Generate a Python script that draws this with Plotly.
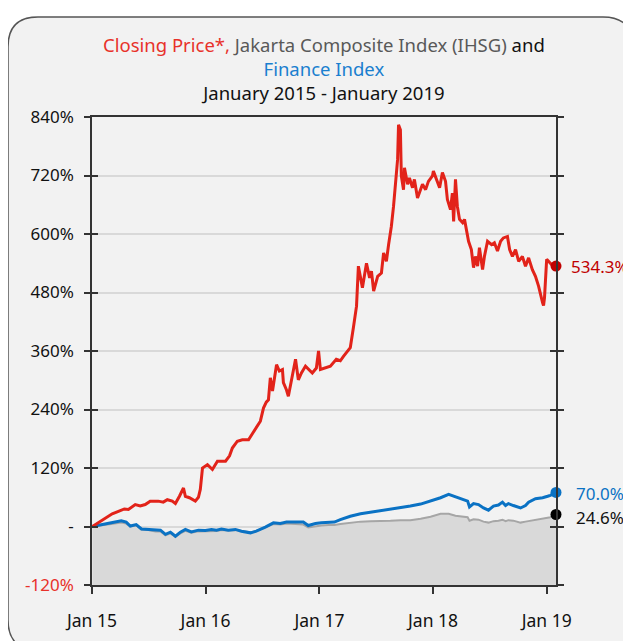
import plotly.graph_objects as go

# ---------------- data ----------------
price_dates = [
    "2015-01-02","2015-01-21","2015-02-13","2015-03-07","2015-03-27","2015-04-15","2015-04-28",
    "2015-05-20","2015-06-05","2015-06-21","2015-07-07","2015-08-02","2015-08-18","2015-08-31",
    "2015-09-16","2015-09-26","2015-10-09","2015-10-22","2015-10-28","2015-11-10","2015-11-29",
    "2015-12-09","2015-12-15","2015-12-22","2016-01-07","2016-01-23","2016-02-08","2016-03-05",
    "2016-03-18","2016-03-27","2016-04-12","2016-04-28","2016-05-18","2016-05-30","2016-06-09",
    "2016-06-25","2016-07-05","2016-07-14","2016-07-21","2016-07-27","2016-08-03","2016-08-09",
    "2016-08-16","2016-08-25","2016-09-04","2016-09-07","2016-09-17","2016-09-23","2016-10-06",
    "2016-10-16","2016-10-25","2016-11-04","2016-11-17","2016-11-30","2016-12-09","2016-12-22",
    "2016-12-29","2017-01-04","2017-01-20","2017-02-05","2017-02-24","2017-03-09","2017-03-19",
    "2017-04-01","2017-04-10","2017-04-20","2017-04-30","2017-05-06","2017-05-19","2017-06-01",
    "2017-06-11","2017-06-17","2017-06-24","2017-07-07","2017-07-19","2017-07-26","2017-08-04",
    "2017-08-11","2017-08-20","2017-08-27","2017-09-02","2017-09-09","2017-09-12","2017-09-18",
    "2017-09-21","2017-09-28","2017-10-01","2017-10-11","2017-10-17","2017-10-27","2017-11-02",
    "2017-11-12","2017-11-28","2017-12-08","2017-12-17","2017-12-30","2018-01-02","2018-01-15",
    "2018-01-22","2018-01-31","2018-02-10","2018-02-16","2018-02-26","2018-03-04","2018-03-08",
    "2018-03-14","2018-03-20","2018-03-27","2018-04-06","2018-04-12","2018-04-18","2018-04-25",
    "2018-05-04","2018-05-11","2018-05-17","2018-05-24","2018-05-30","2018-06-09","2018-06-15",
    "2018-06-25","2018-07-08","2018-07-17","2018-07-27","2018-08-06","2018-08-15","2018-08-28",
    "2018-09-04","2018-09-13","2018-09-23","2018-10-03","2018-10-15","2018-10-25","2018-11-04",
    "2018-11-16","2018-11-26","2018-12-06","2018-12-19","2018-12-22","2018-12-25","2019-01-01",
    "2019-01-07","2019-01-17","2019-01-31",
]
price_return = [
    0, 8, 18, 26, 31, 36, 35,
    45, 42, 45, 52, 52, 50, 55,
    52, 47, 62, 79, 62, 59, 52,
    60, 76, 120, 127, 117, 134, 134,
    145, 161, 175, 178, 178, 190, 199,
    216, 243, 255, 260, 305, 278, 300,
    332, 319, 322, 295, 280, 267, 308,
    343, 301, 315, 329, 320, 315, 325,
    360, 322, 325, 329, 343, 340, 349,
    360, 367, 408, 452, 534, 490, 540,
    510, 524, 483, 513, 520, 561, 544,
    578, 616, 657, 698, 753, 824, 814,
    719, 691, 736, 702, 715, 695, 712,
    674, 702, 691, 708, 719, 729, 708,
    695, 726, 708, 671, 650, 684, 626,
    712, 657, 630, 623, 630, 606, 585,
    568, 531, 554, 534, 572, 527, 554,
    585, 578, 582, 565, 585, 592, 595,
    568, 554, 568, 544, 554, 534, 551,
    527, 513, 493, 459, 453, 469, 548,
    544, 537, 534.3,
]

index_dates = [
    "2015-01-02","2015-01-31","2015-03-04","2015-04-05","2015-04-21","2015-05-04","2015-05-23",
    "2015-06-09","2015-07-01","2015-07-24","2015-08-09","2015-08-25","2015-09-10","2015-09-26",
    "2015-10-12","2015-10-28","2015-11-16","2015-12-09","2015-12-31","2016-01-20","2016-02-05",
    "2016-02-21","2016-03-14","2016-04-06","2016-04-25","2016-05-24","2016-06-12","2016-07-11",
    "2016-08-06","2016-08-28","2016-09-17","2016-10-16","2016-11-10","2016-11-26","2016-12-19",
    "2017-01-07","2017-01-30","2017-02-18","2017-03-09","2017-04-10","2017-05-13","2017-06-14",
    "2017-07-09","2017-08-17","2017-09-18","2017-10-20","2017-11-22","2017-12-24","2018-01-25",
    "2018-02-20","2018-03-14","2018-04-06","2018-04-22","2018-04-28","2018-05-11","2018-05-27",
    "2018-06-12","2018-06-28","2018-07-14","2018-07-30","2018-08-12","2018-08-22","2018-08-31",
    "2018-09-16","2018-10-09","2018-10-25","2018-11-04","2018-11-26","2018-12-19","2019-01-04",
    "2019-01-13","2019-01-31",
]
finance_return = [
    0, 3, 7.5, 11.6, 9, 1, 4,
    -5, -6, -8, -7.5, -16, -11.6, -20,
    -11.6, -6, -11, -7.5, -8, -6, -7.5,
    -5, -7.5, -6, -9.6, -13, -9.6, -1.4,
    7.5, 6, 9, 9, 9, 2, 6,
    7.5, 9, 9, 14, 21, 26, 29,
    31.5, 35, 38, 42, 46, 52, 59,
    66, 61, 57, 52, 40, 47, 45,
    38, 33.5, 42, 44, 50, 43, 47,
    43, 38, 43, 50, 57, 59, 62,
    64, 70.0,
]
ihsg_return = [
    0, 2, 5, 8, 6, 0, 2,
    -6, -7, -10, -10, -18, -14, -21,
    -14, -9, -13, -10, -10, -9, -9,
    -7, -8, -7, -9, -12, -9, -2,
    5, 4, 6, 5, 4, -2, 1,
    2, 3, 3, 5, 8, 10, 11,
    11, 12, 13, 13, 16, 20, 26,
    26, 22, 20, 19, 12, 15, 14,
    10, 8, 11, 12, 14, 11, 13,
    12, 8, 10, 11, 14, 15, 17,
    19, 24.6,
]

y_ticks = [-120, 0, 120, 240, 360, 480, 600, 720, 840]
y_tick_labels = ['<span style="color:#e8312a">-120%</span>', "-", "120%", "240%", "360%",
                 "480%", "600%", "720%", "840%"]
x_range = ["2015-01-01", "2019-01-31"]
y_range = [-120, 840]

# ---------------- style ----------------
RED = "#e2231a"
DARK_RED = "#c00000"
BLUE = "#0a72c4"
GREY_LINE = "#a6a6a6"
GREY_FILL = "#d9d9d9"
FONT = "Noto Sans"

OFF = 8                      # page body margin
PAGE_W, PAGE_H = 631, 641
W, H = PAGE_W - OFF, PAGE_H - OFF
# plot area in page pixels
PX0, PX1, PY0, PY1 = 92, 556, 117, 585
L, R, T, B = PX0 - OFF, PAGE_W - PX1, PY0 - OFF, PAGE_H - PY1
PW, PH = PX1 - PX0, PY1 - PY0


def px2paper(px, py):
    """page pixel -> paper coords"""
    return (px - PX0) / PW, (PY1 - py) / PH


fig = go.Figure()

# baseline for the IHSG area (axis floor)
fig.add_trace(go.Scatter(x=index_dates, y=[y_range[0]] * len(index_dates), mode="lines",
                         line=dict(width=0, color="rgba(0,0,0,0)"), hoverinfo="skip",
                         showlegend=False))
fig.add_trace(go.Scatter(x=index_dates, y=ihsg_return, mode="lines", fill="tonexty",
                         fillcolor=GREY_FILL, line=dict(color=GREY_LINE, width=2),
                         name="IHSG", showlegend=False))
fig.add_trace(go.Scatter(x=index_dates, y=finance_return, mode="lines",
                         line=dict(color=BLUE, width=3), name="Finance Index",
                         showlegend=False))
fig.add_trace(go.Scatter(x=price_dates, y=price_return, mode="lines",
                         line=dict(color=RED, width=3), name="Closing Price",
                         showlegend=False))

# end markers (drawn on overlay axis, same scale)
ends_x = [price_dates[-1], index_dates[-1], index_dates[-1]]
ends_y = [price_return[-1], finance_return[-1], ihsg_return[-1]]
fig.add_trace(go.Scatter(x=ends_x, y=ends_y, mode="markers", yaxis="y2",
                         marker=dict(size=11, color=[DARK_RED, BLUE, "#000000"]),
                         showlegend=False, hoverinfo="skip", cliponaxis=False))

end_label_colors = [DARK_RED, BLUE, "#111111"]
end_label_shift = [0, 1, 3]
for xv, yv, c, ys in zip(ends_x, ends_y, end_label_colors, end_label_shift):
    fig.add_annotation(x=xv, y=yv, xref="x", yref="y", text=f"{yv:.1f}%", showarrow=False,
                       xanchor="center", yanchor="middle", xshift=44, yshift=-ys,
                       font=dict(family=FONT, size=17, color=c))

# card background (rounded rectangle)
cx0, cy0, cx1, cy1, rad = 8, 17, 633, 650, 30
pts = {
    "a": px2paper(cx0 + rad, cy0), "b": px2paper(cx1 - rad, cy0), "c": px2paper(cx1, cy0),
    "d": px2paper(cx1, cy0 + rad), "e": px2paper(cx1, cy1 - rad), "f": px2paper(cx1, cy1),
    "g": px2paper(cx1 - rad, cy1), "h": px2paper(cx0 + rad, cy1), "i": px2paper(cx0, cy1),
    "j": px2paper(cx0, cy1 - rad), "k": px2paper(cx0, cy0 + rad), "l": px2paper(cx0, cy0),
}
p = lambda k: f"{pts[k][0]:.5f},{pts[k][1]:.5f}"
path = (f"M {p('a')} L {p('b')} Q {p('c')} {p('d')} L {p('e')} Q {p('f')} {p('g')} "
        f"L {p('h')} Q {p('i')} {p('j')} L {p('k')} Q {p('l')} {p('a')} Z")
fig.add_shape(type="path", path=path, xref="paper", yref="paper", layer="below",
              fillcolor="#f2f2f2", line=dict(color="#555555", width=1.5))

title_text = ('<span style="color:#e8312a">Closing Price*,</span>'
              '<span style="color:#595959"> Jakarta Composite Index (IHSG)</span> and<br>'
              '<span style="color:#1a7fcf">Finance Index</span><br>'
              'January 2015 - January 2019')
tx, ty = px2paper(324, 69)
fig.add_annotation(text=title_text, x=tx, y=ty, xref="paper", yref="paper",
                   xanchor="center", yanchor="middle", showarrow=False, align="center",
                   font=dict(family=FONT, size=18.5, color="#111111"))

fig.update_layout(
    width=W, height=H,
    margin=dict(l=L, r=R, t=T, b=B, pad=0, autoexpand=False),
    paper_bgcolor="#ffffff",
    plot_bgcolor="rgba(0,0,0,0)",
    font=dict(family=FONT, size=17, color="#111111"),
    showlegend=False,
    xaxis=dict(type="date", range=x_range, dtick="M12", tick0="2015-01-01",
               tickformat="%b %y", ticks="outside", ticklen=7, tickcolor="#333333",
               tickwidth=1.5, showline=True, linecolor="#333333", linewidth=1.5,
               mirror=True, showgrid=False, zeroline=False, ticklabelstandoff=12,
               automargin=False,
               tickfont=dict(family=FONT, size=17.5, color="#111111")),
    yaxis=dict(range=y_range, tickvals=y_ticks, ticktext=y_tick_labels,
               ticks="outside", ticklen=6, tickcolor="#333333", tickwidth=1.5,
               showline=True, linecolor="#333333", linewidth=1.5, mirror="ticks",
               showgrid=True, gridcolor="#d9d9d9", gridwidth=1.5, zeroline=False,
               ticklabelstandoff=7, automargin=False,
               tickfont=dict(family=FONT, size=17, color="#111111")),
    yaxis2=dict(range=y_range, overlaying="y", side="left", tickvals=y_ticks,
                ticks="inside", ticklen=6, tickcolor="#333333", tickwidth=1.5,
                showticklabels=False, showline=False, mirror="ticks",
                showgrid=False, zeroline=False, automargin=False),
)

fig.write_html("out.html")
